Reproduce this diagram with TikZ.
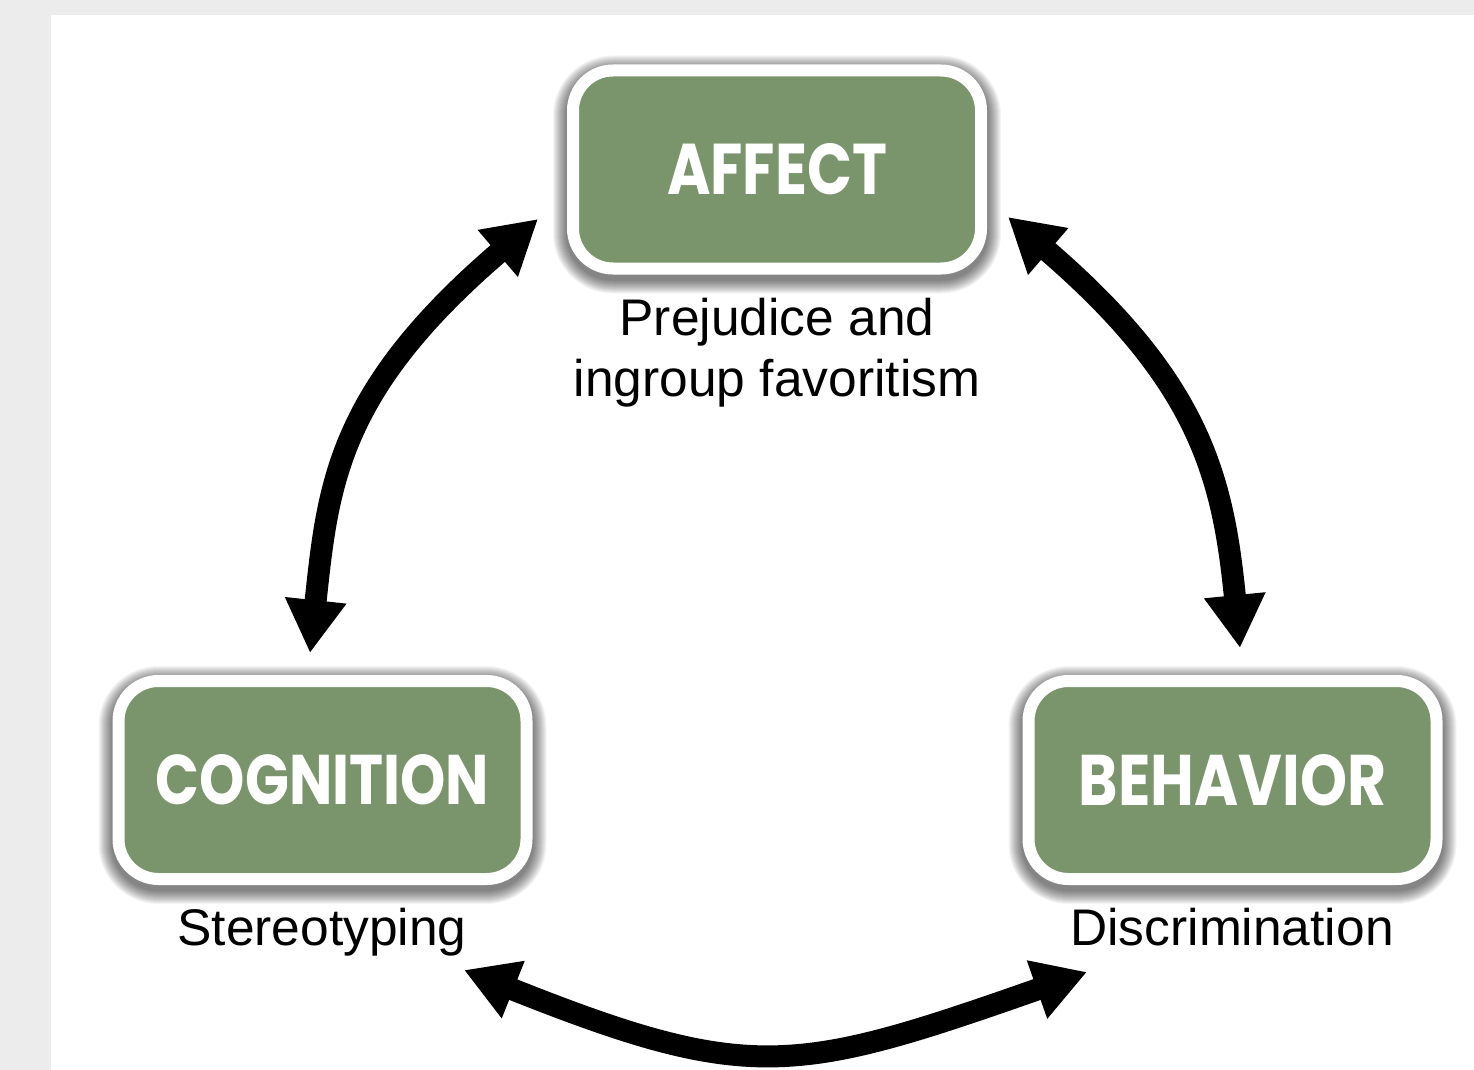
\documentclass[tikz,border=0pt]{standalone}
\usepackage{fontspec}
\setmainfont{Liberation Sans}
\newfontfamily\boxfont{Poppins}
\usetikzlibrary{arrows.meta,calc}
\definecolor{boxgreen}{RGB}{122,148,107}
\definecolor{bggray}{RGB}{236,236,236}
\begin{document}
\begin{tikzpicture}[x=1pt,y=-1pt,
  box/.style={fill=boxgreen, draw=white, line width=12pt, rounded corners=40pt,
    minimum width=408pt, minimum height=198pt, inner sep=0pt, text=white},
  lbl/.style={font=\fontsize{51.5}{61}\selectfont, inner sep=0pt, text=black},
  link/.style={line width=22pt, line cap=butt,
    {Triangle[length=53pt,width=58pt]}-{Triangle[length=53pt,width=58pt]}}]
\useasboundingbox (0,0) rectangle (1474,1070);
\fill[bggray] (0,0) rectangle (1474,1070);
\fill[white] (51,15) rectangle (1474,1070);
% soft shadows behind the boxes
\foreach \cx/\cy in {777/169.5, 322.5/780, 1232.5/780}{
  \foreach \i [evaluate=\i as \r using 46+\i] in {1,...,14}{
    \fill[black, opacity=0.045, rounded corners=\r pt]
      (\cx-210-\i, \cy-105-\i+5) rectangle (\cx+210+\i, \cy+105+\i+5);
  }
}
% boxes
\node[box] (affect) at (777,169.5) {\resizebox{220pt}{51pt}{\boxfont\bfseries AFFECT}};
\node[box] (cognition) at (322.5,780) {\resizebox{333pt}{50pt}{\boxfont\bfseries COGNITION}};
\node[box] (behavior) at (1232.5,780) {\resizebox{307pt}{51pt}{\boxfont\bfseries BEHAVIOR}};
% labels
\node[lbl, anchor=north, align=center] (afflbl) at (777,298) {Prejudice and\\ingroup favoritism};
\node[lbl, anchor=base] (coglbl) at (322,945) {Stereotyping};
\node[lbl, anchor=base] (behlbl) at (1232,945) {Discrimination};
% connector end points
\coordinate (cogtop) at (310,653);
\coordinate (affleft) at (538,219);
\coordinate (affright) at (1008,217);
\coordinate (behtop) at (1240,648);
\coordinate (cogbot) at (464,970);
\coordinate (behbot) at (1087,972);
% connectors
\draw[link] (cogtop) .. controls (328,486) and (336,392) .. (affleft);
\draw[link] (affright) .. controls (1200,382) and (1223,477) .. (behtop);
\draw[link] (cogbot) .. controls (750,1084) and (796,1074) .. (behbot);
\end{tikzpicture}
\end{document}
